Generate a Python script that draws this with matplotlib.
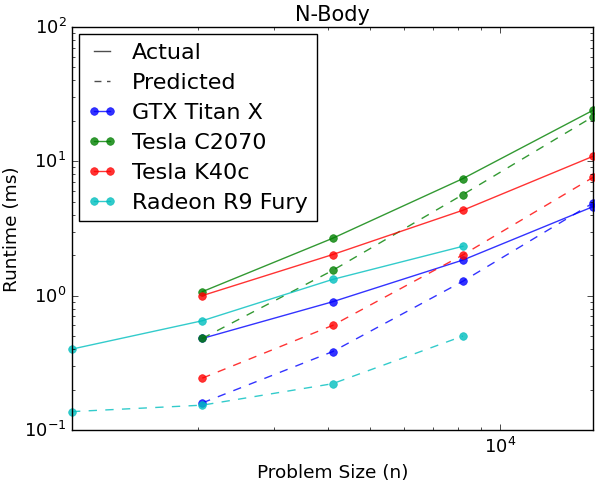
import matplotlib
matplotlib.use('Agg')
import matplotlib.pyplot as plt
from matplotlib.lines import Line2D

plt.style.use('classic')

sizes = [1024, 2048, 4096, 8192, 16384]
devices = ['GTX Titan X', 'Tesla C2070', 'Tesla K40c', 'Radeon R9 Fury']
colors = ['b', 'g', 'r', 'c']

# runtimes in ms, None where the device was not measured
actual = {
    'GTX Titan X':    [None, 0.48, 0.90, 1.84, 4.6],
    'Tesla C2070':    [None, 1.07, 2.67, 7.43, 24.0],
    'Tesla K40c':     [None, 1.00, 2.02, 4.32, 10.9],
    'Radeon R9 Fury': [0.40, 0.65, 1.32, 2.33, None],
}
predicted = {
    'GTX Titan X':    [None, 0.159, 0.383, 1.28, 4.9],
    'Tesla C2070':    [None, 0.48, 1.54, 5.65, 21.5],
    'Tesla K40c':     [None, 0.243, 0.60, 2.01, 7.6],
    'Radeon R9 Fury': [0.137, 0.153, 0.221, 0.50, None],
}


def pts(vals):
    xs = [s for s, v in zip(sizes, vals) if v is not None]
    ys = [v for v in vals if v is not None]
    return xs, ys


fig = plt.figure(figsize=(5.95, 4.81), dpi=100)
ax = fig.add_axes([0.121, 0.104, 0.876, 0.838])

for dev, c in zip(devices, colors):
    xs, ys = pts(actual[dev])
    ax.plot(xs, ys, '-o', color=c, lw=1, ms=5.5, mec=c, alpha=0.8, clip_on=False)
    xs, ys = pts(predicted[dev])
    ax.plot(xs, ys, '--o', color=c, lw=1, ms=5.5, mec=c, alpha=0.8, clip_on=False)

ax.set_xscale('log')
ax.set_yscale('log')
ax.set_xlim(1024, 16384)
ax.set_ylim(0.1, 100)

ax.set_title('N-Body', fontsize=15)
ax.set_xlabel('Problem Size (n)', fontsize=13.3)
ax.set_ylabel('Runtime (ms)', fontsize=13.3, labelpad=2)
ax.tick_params(labelsize=13)

handles = [Line2D([], [], color='0.3', ls='-', lw=1),
           Line2D([], [], color='0.3', ls=(0, (5, 4)), lw=1)]
for c in colors:
    handles.append(Line2D([], [], color=c, ls='-', marker='o', lw=1, ms=5.5, mec=c, alpha=0.8))
labels = ['Actual', 'Predicted'] + devices
ax.legend(handles, labels, loc='upper left', fontsize=16, numpoints=2,
          handlelength=1.3, handletextpad=0.7, borderaxespad=0.3, labelspacing=0.45)

fig.savefig('out.png', dpi=100)
